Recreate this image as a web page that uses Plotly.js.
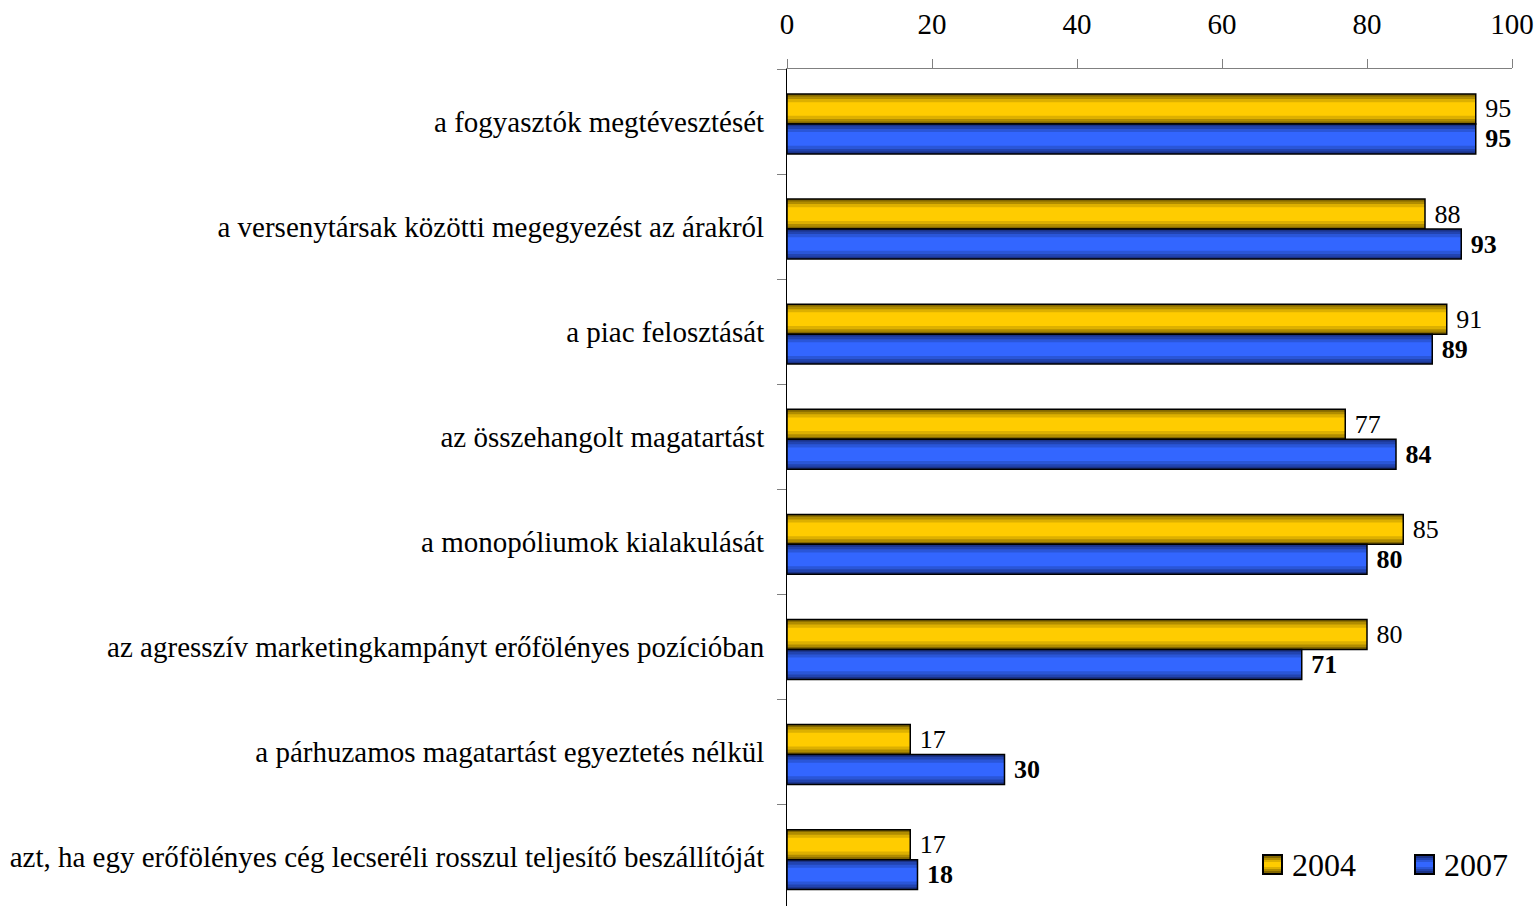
<!DOCTYPE html>
<html>
<head>
<meta charset="utf-8">
<script src="https://cdn.plot.ly/plotly-3.0.1.min.js"></script>
<style>
html,body{margin:0;padding:0;overflow:hidden;background:#fff;}
#chart{width:1540px;height:906px;}
</style>
</head>
<body>
<div id="chart"></div>
<script>
const categories = [
  "a fogyasztók megtévesztését",
  "a versenytársak közötti megegyezést az árakról",
  "a piac felosztását",
  "az összehangolt magatartást",
  "a monopóliumok kialakulását",
  "az agresszív marketingkampányt erőfölényes pozícióban",
  "a párhuzamos magatartást egyeztetés nélkül",
  "azt, ha egy erőfölényes cég lecseréli rosszul teljesítő beszállítóját"
];
const values2004 = [95, 88, 91, 77, 85, 80, 17, 17];
const values2007 = [95, 93, 89, 84, 80, 71, 30, 18];
const seriesNames = ["2004", "2007"];
const xTicks = [0, 20, 40, 60, 80, 100];

const FONT = "Liberation Serif, Times New Roman, serif";
const BW = 0.285;
const off04 = -0.262, off07 = 0.023;

const gold = ['#846800', '#B08C00', '#DDB000', '#FFCC00'];
const blue = ['#1B3388', '#2244B0', '#2A56D8', '#3366FF'];
const bandWidths = [0.285, 0.24, 0.19, 0.13];

function layerTraces(vals, name, off, colors, bold) {
  const c = off + BW / 2;
  const out = bandWidths.map((w, i) => ({
    type: 'bar', orientation: 'h', x: vals, y: categories, name: name,
    offset: c - w / 2, width: w,
    marker: {color: colors[i], line: {width: 0}},
    showlegend: false, hoverinfo: 'skip'
  }));
  out.push({
    type: 'bar', orientation: 'h', x: vals, y: categories, name: name,
    offset: off, width: BW,
    marker: {color: 'rgba(0,0,0,0)', line: {width: 1.5, color: '#000'}},
    text: vals.map(v => '\u00a0' + v), textposition: 'outside', cliponaxis: false,
    textfont: {family: FONT, size: 26, color: '#000', weight: bold ? 'bold' : 'normal'},
    showlegend: false
  });
  return out;
}

const traces = [
  ...layerTraces(values2004, seriesNames[0], off04, gold, false),
  ...layerTraces(values2007, seriesNames[1], off07, blue, true)
];

// custom legend (plot area: x 787..1512, y 69..906)
const px2x = p => (p - 787) / 725;
const px2y = p => (906 - p) / 837;
const shapes = [
  {type: 'line', xref: 'x', yref: 'paper', x0: -2.2, x1: 0, y0: 1, y1: 1,
   line: {color: '#808080', width: 1}}
];
const annotations = [];
function legendItem(left, name, colors) {
  const top = 855, size = 19;
  const rect = (t, b, col, line) => shapes.push({type: 'rect', xref: 'paper', yref: 'paper',
    x0: px2x(left), x1: px2x(left + size), y0: px2y(top + b), y1: px2y(top + t),
    fillcolor: col, line: line || {width: 0}});
  rect(0, size, colors[0]);
  rect(3, size - 3, colors[1]);
  rect(5, size - 5, colors[2]);
  rect(7, size - 7, colors[3]);
  rect(0, size, 'rgba(0,0,0,0)', {width: 2, color: '#000'});
  annotations.push({xref: 'paper', yref: 'paper', x: px2x(left + 27), y: px2y(top + size / 2),
    xanchor: 'left', yanchor: 'middle', showarrow: false, text: name,
    font: {family: FONT, size: 32, color: '#000'}});
}
legendItem(1263, seriesNames[0], gold);
legendItem(1415, seriesNames[1], blue);

const layout = {
  width: 1540, height: 906,
  margin: {l: 787, r: 28, t: 69, b: 0, pad: 0},
  paper_bgcolor: '#fff', plot_bgcolor: '#fff',
  barmode: 'overlay',
  font: {family: FONT, color: '#000'},
  showlegend: false,
  xaxis: {
    side: 'top', range: [0, 100], tickvals: xTicks, ticktext: xTicks.map(String),
    showgrid: false, zeroline: false, showline: true, linecolor: '#808080', linewidth: 1,
    ticks: 'outside', ticklen: 9, tickcolor: '#808080', tickwidth: 1,
    tickfont: {family: FONT, size: 29, color: '#000'}, ticklabelstandoff: 13,
    fixedrange: true
  },
  yaxis: {
    type: 'category', range: [7.464, -0.5], autorange: false,
    showgrid: false, zeroline: false, showline: true, linecolor: '#000', linewidth: 1,
    ticks: 'outside', tickson: 'boundaries', ticklen: 9, tickcolor: '#808080', tickwidth: 1,
    tickfont: {family: FONT, size: 29, color: '#000'}, ticklabelstandoff: 16,
    fixedrange: true
  },
  shapes: shapes,
  annotations: annotations
};

Plotly.newPlot('chart', traces, layout, {displayModeBar: false, staticPlot: true});
</script>
</body>
</html>
